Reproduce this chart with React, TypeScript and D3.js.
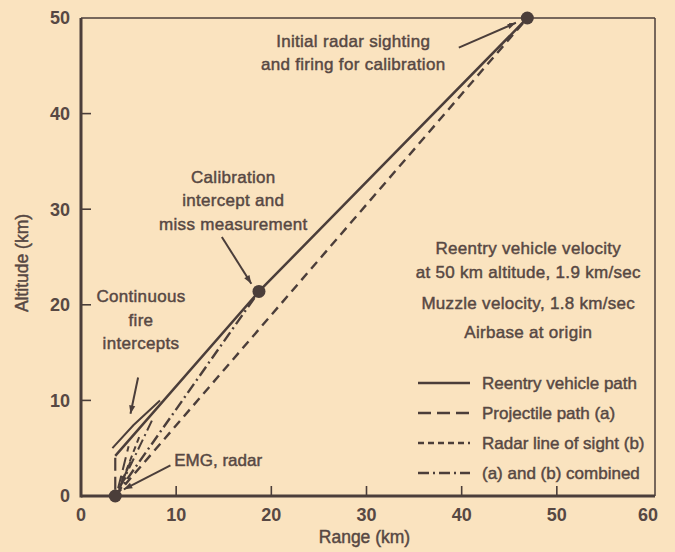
import React from "react";
import * as d3 from "d3";

// axis ticks
const xTicks = [0, 10, 20, 30, 40, 50, 60];
const yTicks = [0, 10, 20, 30, 40, 50];

// key points [range km, altitude km]
const topPoint: [number, number] = [46.9, 50];
const calibPoint: [number, number] = [18.7, 21.4];
const emgPoint: [number, number] = [3.6, 0];

// series
const reentryPath: [number, number][] = [topPoint, calibPoint, [3.6, 4.2]];
const reentryDrop: [number, number][] = [[3.6, 4.0], [3.6, 0.4]];
const radarSight: [number, number][] = [emgPoint, topPoint];
const combinedPath: [number, number][] = [emgPoint, calibPoint];
const fireBracket: [number, number][] = [[3.3, 5.0], [5.5, 7.4], [8.3, 10.0]];
const fireShots: { pts: [number, number][]; style: string }[] = [
  { pts: [[4.1, 0.9], [7.6, 8.2]], style: "dashdot" },
  { pts: [[4.0, 0.7], [6.2, 6.4]], style: "short" },
  { pts: [[3.9, 0.8], [5.0, 5.2]], style: "long" },
];

// annotation arrows [from, to]
const arrows: [number, number][][] = [
  [[39.7, 46.9], [45.7, 49.5]],
  [[14.8, 27.1], [17.9, 22.2]],
  [[9.4, 3.2], [4.5, 0.7]],
  [[6.0, 12.4], [5.2, 8.6]],
  [[5.2, 3.6], [4.2, 1.2]],
];

const notes = [
  { lines: ["Initial radar sighting", "and firing for calibration"], x: 28.6, y: 47.6 },
  { lines: ["Calibration", "intercept and", "miss measurement"], x: 16.0, y: 33.4 },
  { lines: ["Continuous", "fire", "intercepts"], x: 6.3, y: 20.9 },
  { lines: ["Reentry vehicle velocity", "at 50 km altitude, 1.9 km/sec"], x: 47.0, y: 25.9 },
  { lines: ["Muzzle velocity, 1.8 km/sec"], x: 47.0, y: 20.2 },
  { lines: ["Airbase at origin"], x: 47.0, y: 17.1 },
];

const legendItems = [
  { label: "Reentry vehicle path", style: "solid" },
  { label: "Projectile path (a)", style: "long" },
  { label: "Radar line of sight (b)", style: "short" },
  { label: "(a) and (b) combined", style: "dashdot" },
];

const dashes: Record<string, string | undefined> = {
  solid: undefined,
  long: "13,6",
  short: "6,4",
  radar: "9,6",
  dashdot: "11,4,2,4",
};

const W = 675;
const H = 552;
const bg = "#fae3bf";
const ink = "#4b3e3a";
const textInk = "#574843";
const font = "'Liberation Sans', Arial, Helvetica, sans-serif";
const fs = 17;

export default function App() {
  const x = d3.scaleLinear().domain([0, 60]).range([81, 652]);
  const y = d3.scaleLinear().domain([0, 50]).range([496, 18]);
  const line = d3
    .line<[number, number]>()
    .x((d) => x(d[0]))
    .y((d) => y(d[1]));

  const arrowHead = (a: [number, number], b: [number, number]) => {
    const x1 = x(a[0]), y1 = y(a[1]), x2 = x(b[0]), y2 = y(b[1]);
    const ang = Math.atan2(y2 - y1, x2 - x1);
    const len = 9, spread = 0.35;
    const p1 = [x2 - len * Math.cos(ang - spread), y2 - len * Math.sin(ang - spread)];
    const p2 = [x2 - len * Math.cos(ang + spread), y2 - len * Math.sin(ang + spread)];
    return `M${x2},${y2}L${p1[0]},${p1[1]}L${p2[0]},${p2[1]}Z`;
  };

  const lineH = 23.5;
  const txt = { fill: textInk, stroke: textInk, strokeWidth: 0.45 };

  return (
    <div style={{ position: "fixed", left: 0, top: 0 }}>
      <svg width={W} height={H} style={{ display: "block", background: bg }} fontFamily={font}>
        <rect width={W} height={H} fill={bg} />

        {/* frame */}
        <line x1={x(0)} x2={x(60) + 3} y1={y(50)} y2={y(50)} stroke={ink} strokeWidth={1.3} />
        <line x1={x(60) + 3} x2={x(60) + 3} y1={y(50)} y2={y(0)} stroke={ink} strokeWidth={1.5} />
        <line x1={x(0)} x2={x(0)} y1={y(50)} y2={y(0) + 1.5} stroke={ink} strokeWidth={3} />
        <line x1={x(0)} x2={x(60) + 3} y1={y(0)} y2={y(0)} stroke={ink} strokeWidth={3} />

        {/* ticks */}
        {yTicks.slice(1, -1).map((t) => (
          <line key={"yt" + t} x1={x(0)} x2={x(0) + 10} y1={y(t)} y2={y(t)} stroke={ink} strokeWidth={1.6} />
        ))}
        {xTicks.slice(1, -1).map((t) => (
          <line key={"xt" + t} x1={x(t)} x2={x(t)} y1={y(0)} y2={y(0) - 10} stroke={ink} strokeWidth={1.6} />
        ))}
        {yTicks.map((t) => (
          <text key={"yl" + t} x={x(0) - 11} y={y(t)} dy="0.36em" textAnchor="end" fontSize={18} fontWeight="bold" fill={textInk}>
            {t}
          </text>
        ))}
        {xTicks.map((t) => (
          <text key={"xl" + t} x={x(t) + (t === 60 ? -4 : 0)} y={y(0) + 25} textAnchor="middle" fontSize={18} fontWeight="bold" fill={textInk}>
            {t}
          </text>
        ))}
        <text x={(x(0) + x(60)) / 2 - 2} y={y(0) + 47} textAnchor="middle" fontSize={17.5} {...txt}>
          Range (km)
        </text>
        <text transform={`translate(28,${(y(0) + y(50)) / 2 + 6}) rotate(-90)`} textAnchor="middle" fontSize={17.5} {...txt}>
          Altitude (km)
        </text>

        {/* paths */}
        <path d={line(reentryPath) || ""} fill="none" stroke={ink} strokeWidth={2.5} />
        <path d={line(reentryDrop) || ""} fill="none" stroke={ink} strokeWidth={2.2} strokeDasharray={dashes.long} />
        <path d={line(radarSight) || ""} fill="none" stroke={ink} strokeWidth={2.4} strokeDasharray={dashes.radar} />
        <path d={line(combinedPath) || ""} fill="none" stroke={ink} strokeWidth={2.4} strokeDasharray={dashes.dashdot} />
        <path d={line(fireBracket) || ""} fill="none" stroke={ink} strokeWidth={2} />
        {fireShots.map((s, i) => (
          <path key={"fs" + i} d={line(s.pts) || ""} fill="none" stroke={ink} strokeWidth={2} strokeDasharray={dashes[s.style]} />
        ))}

        {/* arrows */}
        {arrows.map((a, i) => (
          <g key={"ar" + i}>
            <line x1={x(a[0][0])} y1={y(a[0][1])} x2={x(a[1][0])} y2={y(a[1][1])} stroke={ink} strokeWidth={2} />
            <path d={arrowHead(a[0], a[1])} fill={ink} />
          </g>
        ))}

        {/* points */}
        {[topPoint, calibPoint, emgPoint].map((p, i) => (
          <circle key={"pt" + i} cx={x(p[0])} cy={y(p[1])} r={6.5} fill={ink} />
        ))}

        {/* notes */}
        {notes.map((n, i) => (
          <text key={"n" + i} x={x(n.x)} y={y(n.y)} textAnchor="middle" fontSize={fs} letterSpacing={0.3} {...txt}>
            {n.lines.map((l, j) => (
              <tspan key={j} x={x(n.x)} dy={j === 0 ? "0.35em" : lineH}>
                {l}
              </tspan>
            ))}
          </text>
        ))}
        <text x={x(9.8)} y={y(3.8)} dy="0.35em" fontSize={fs} {...txt}>
          EMG, radar
        </text>

        {/* legend */}
        {legendItems.map((it, i) => {
          const ly = 383 + i * 30;
          return (
            <g key={"lg" + i}>
              <line x1={418} x2={470} y1={ly} y2={ly} stroke={ink} strokeWidth={2.4} strokeDasharray={dashes[it.style]} />
              <text x={482} y={ly} dy="0.35em" fontSize={fs} {...txt}>
                {it.label}
              </text>
            </g>
          );
        })}
      </svg>
    </div>
  );
}
